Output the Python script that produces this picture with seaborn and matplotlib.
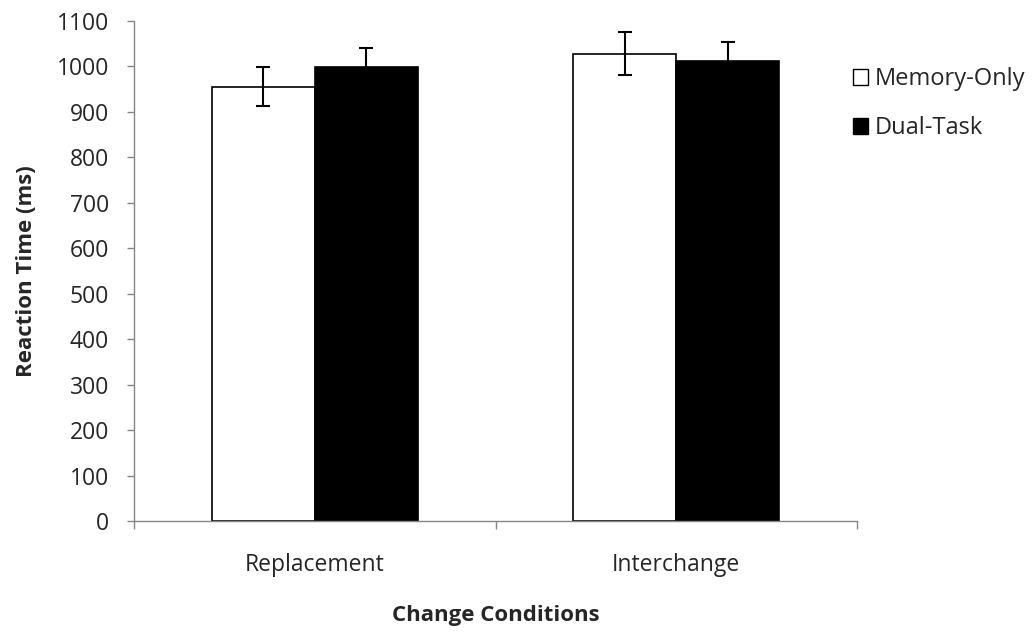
import matplotlib
matplotlib.use("Agg")
import matplotlib.pyplot as plt
import seaborn as sns
import pandas as pd
import numpy as np
from matplotlib.patches import Patch

conditions = ["Replacement", "Interchange"]
groups = ["Memory-Only", "Dual-Task"]
memory_only = [955, 1028]
dual_task = [999, 1012]
memory_only_err = [43, 47]
dual_task_err = [42, 41]
yticks = list(range(0, 1101, 100))

sns.set_theme(style="white")
plt.rcParams["font.family"] = ["Open Sans", "DejaVu Sans"]
FS = 16.5

df = pd.DataFrame({
    "Condition": conditions * 2,
    "Group": [groups[0]] * 2 + [groups[1]] * 2,
    "RT": memory_only + dual_task,
})
errs = {groups[0]: memory_only_err, groups[1]: dual_task_err}

fig = plt.figure(figsize=(10.33, 6.32), dpi=100)
ax = fig.add_axes([0.1297, 0.1756, 0.7, 0.7912])
palette = {groups[0]: "white", groups[1]: "black"}
sns.barplot(data=df, x="Condition", y="RT", hue="Group", order=conditions,
            hue_order=groups, palette=palette, width=0.57, errorbar=None,
            edgecolor="black", linewidth=1.2, saturation=1, ax=ax, legend=False)

# error bars
for container, g in zip(ax.containers, groups):
    for bar, e in zip(container, errs[g]):
        cx = bar.get_x() + bar.get_width() / 2
        ax.errorbar(cx, bar.get_height(), yerr=e, fmt="none", ecolor="black",
                    elinewidth=1.5, capsize=5, capthick=1.5, zorder=5)

ax.set_ylim(0, 1100)
ax.set_xlim(-0.5, 1.5)
ax.set_yticks(yticks)
ax.set_yticklabels([str(t) for t in yticks], fontsize=FS)
ax.tick_params(axis="x", which="major", length=0, labelsize=FS, pad=23)
ax.set_xticks([-0.5, 0.5, 1.5], minor=True)
ax.tick_params(axis="x", which="minor", length=6, color="#868686", width=1, direction="out", bottom=True)
ax.tick_params(axis="y", length=5, color="#868686", width=1, direction="out", left=True, pad=13)
for s in ["top", "right"]:
    ax.spines[s].set_visible(False)
for s in ["left", "bottom"]:
    ax.spines[s].set_color("#868686")
    ax.spines[s].set_linewidth(1)

ax.set_ylabel("Reaction Time (ms)", fontsize=16, fontweight="bold", labelpad=14)
ax.set_xlabel("Change Conditions", fontsize=16, fontweight="bold", labelpad=20)

handles = [Patch(facecolor=palette[g], edgecolor="black", linewidth=1, label=g) for g in groups]
leg = fig.legend(handles=handles, loc="upper left", bbox_to_anchor=(0.805, 0.927),
                 frameon=False, fontsize=17, handlelength=0.65, handleheight=0.65,
                 handletextpad=0.3, labelspacing=1.05)

fig.savefig("out.png", dpi=100)
